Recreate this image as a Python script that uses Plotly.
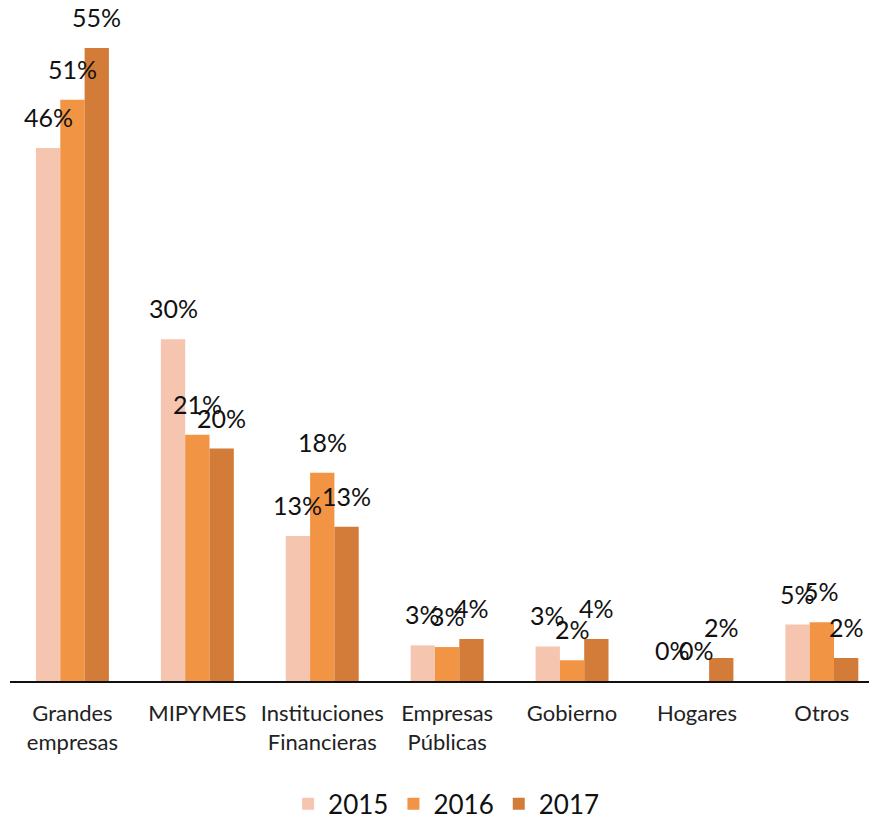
import plotly.graph_objects as go

categories = ["Grandes<br>empresas", "MIPYMES", "Instituciones<br>Financieras",
              "Empresas<br>Públicas", "Gobierno", "Hogares", "Otros"]
years = ["2015", "2016", "2017"]
v2015 = [46.3, 29.7, 12.6, 3.1, 3.0, 0.0, 4.9]
v2016 = [50.5, 21.4, 18.1, 2.95, 1.8, 0.0, 5.1]
v2017 = [55.0, 20.2, 13.4, 3.65, 3.65, 2.0, 2.0]
series = [v2015, v2016, v2017]
colors = ["#F6C5B0", "#F19443", "#D37B38"]

# page body has an 8px margin, so the figure is a bit smaller than the window
W, H = 869, 811
ML, MR, MT, MB = 2, 0, 2, 138
plot_w = W - ML - MR
plot_h = H - MT - MB
slot_px = 124.9
x_span = plot_w / slot_px
bargap = 0.416
y_max = plot_h / 11.51
bar_px = slot_px * (1 - bargap) / 3

FONT = "Lato"
fig = go.Figure()
annotations = []
for i, (yr, vals, col) in enumerate(zip(years, series, colors)):
    fig.add_trace(go.Bar(
        x=categories, y=vals, name=yr,
        marker=dict(color=col, line=dict(width=0)),
    ))
    for c, v in zip(categories, vals):
        annotations.append(dict(
            x=c, y=v, xref="x", yref="y",
            text=f"{round(v + 1e-9):.0f}%", showarrow=False,
            xanchor="center", yanchor="bottom",
            xshift=(i - 1) * bar_px, yshift=14,
            font=dict(family=FONT, size=25, color="#111111"),
        ))

fig.update_layout(
    width=W, height=H,
    margin=dict(l=ML, r=MR, t=MT, b=MB, autoexpand=False),
    plot_bgcolor="white", paper_bgcolor="white",
    barmode="group", bargap=bargap, bargroupgap=0,
    annotations=annotations,
    showlegend=True,
    legend=dict(orientation="h", x=0.503, xanchor="center", y=-0.148, yanchor="top",
                font=dict(family=FONT, size=26, color="#111111"),
                traceorder="normal"),
    xaxis=dict(range=[-0.5, -0.5 + x_span], showline=True, linecolor="#111111",
               linewidth=2, ticks="", showgrid=False, zeroline=False,
               tickfont=dict(family=FONT, size=22, color="#222222"),
               ticklabelstandoff=12),
    yaxis=dict(range=[0, y_max], visible=False, showgrid=False, zeroline=False),
)

fig.write_html("out.html")
